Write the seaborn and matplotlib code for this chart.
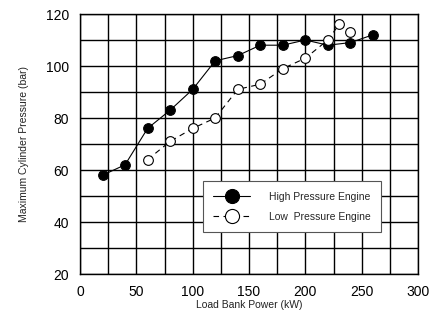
import matplotlib
matplotlib.use("Agg")
import matplotlib.pyplot as plt
import seaborn as sns
import pandas as pd
from matplotlib.ticker import MultipleLocator

hp_power = [20, 40, 60, 80, 100, 120, 140, 160, 180, 200, 220, 240, 260]
hp_pressure = [58, 62, 76, 83, 91, 102, 104, 108, 108, 110, 108, 109, 112]
lp_power = [60, 80, 100, 120, 140, 160, 180, 200, 220, 230, 240]
lp_pressure = [64, 71, 76, 80, 91, 93, 99, 103, 110, 116, 113]

sns.set_theme(style="white")
plt.rcParams['font.family'] = ['Liberation Sans', 'DejaVu Sans']

fig = plt.figure(figsize=(4.33, 3.19), dpi=100)
ax = fig.add_axes([80/433, 1-274/319, 338/433, 260/319])

hp = pd.DataFrame({"x": hp_power, "y": hp_pressure})
lp = pd.DataFrame({"x": lp_power, "y": lp_pressure})

sns.lineplot(data=hp, x="x", y="y", ax=ax, color="black", lw=0.8,
             marker="o", markersize=7, markerfacecolor="black",
             markeredgecolor="black", label="High Pressure Engine")
sns.lineplot(data=lp, x="x", y="y", ax=ax, color="black", lw=0.8,
             linestyle=(0, (5, 4)), marker="o", markersize=7,
             markerfacecolor="white", markeredgecolor="black",
             markeredgewidth=0.8, label="Low  Pressure Engine")

ax.set_xlim(0, 300)
ax.set_ylim(20, 120)
ax.xaxis.set_major_locator(MultipleLocator(50))
ax.xaxis.set_minor_locator(MultipleLocator(25))
ax.yaxis.set_major_locator(MultipleLocator(20))
ax.yaxis.set_minor_locator(MultipleLocator(10))
ax.grid(True, which="both", color="black", lw=1.0)
ax.tick_params(axis="both", which="both", length=0, labelsize=10, pad=8, colors="black")
for s in ax.spines.values():
    s.set_visible(True)
    s.set_color("black")
    s.set_linewidth(1.0)

ax.set_xlabel("Load Bank Power (kW)", fontsize=7.5, labelpad=1, color="#222222")
ax.set_ylabel("Maximum Cylinder Pressure (bar)", fontsize=7.5, labelpad=12, color="#222222")

leg = ax.legend(loc="lower right", bbox_to_anchor=(0.905, 0.14), fontsize=7.5,
                frameon=True, fancybox=False, edgecolor="#555555",
                framealpha=1, markerscale=1.45, handlelength=3.5,
                borderpad=1.0, labelspacing=1.0, handletextpad=1.8)
leg.get_frame().set_linewidth(0.8)

fig.savefig("out.png", dpi=100)
